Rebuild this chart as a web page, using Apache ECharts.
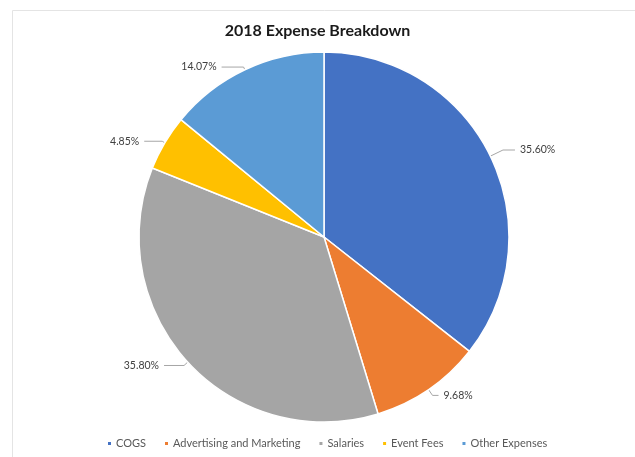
<!DOCTYPE html>
<html>
<head>
<meta charset="utf-8">
<style>
  html, body { margin: 0; padding: 0; background: #fff; }
  #chart { width: 635px; height: 457px; }
</style>
<script src="https://cdn.jsdelivr.net/npm/echarts@6/dist/echarts.min.js"></script>
</head>
<body>
<div id="chart"></div>
<script>
// 2018 expense shares, in percent
const categories = ['COGS', 'Advertising and Marketing', 'Salaries', 'Event Fees', 'Other Expenses'];
const shares = [35.60, 9.68, 35.80, 4.85, 14.07];
const colors = ['#4472C4', '#ED7D31', '#A5A5A5', '#FFC000', '#5B9BD5'];
// leader line segment lengths for each slice label: [first, second]
const leaderLengths = [[14, 12], [7, 6], [5, 20], [3, 18], [3, 22]];

const chart = echarts.init(document.getElementById('chart'), null, { renderer: 'canvas' });

chart.setOption({
  animation: false,
  backgroundColor: '#ffffff',
  color: colors,
  graphic: [{
    type: 'rect',
    shape: { x: 12.5, y: 10.5, width: 700, height: 500 },
    style: { fill: 'none', stroke: '#e4e4e4', lineWidth: 1 },
    silent: true
  }],
  title: {
    text: '2018 Expense Breakdown',
    left: 'center',
    top: 18,
    textStyle: { fontFamily: 'Lato', fontWeight: 'bold', fontSize: 16, color: '#1a1a1a' }
  },
  legend: {
    bottom: 3,
    left: 101,
    itemWidth: 5,
    itemHeight: 5,
    itemGap: 17,
    icon: 'rect',
    textStyle: { fontFamily: 'Lato', fontSize: 11, color: '#595959', padding: [0, 0, 0, -1] },
    data: categories
  },
  series: [{
    type: 'pie',
    center: [324, 237],
    radius: 185,
    startAngle: 90,
    clockwise: true,
    data: categories.map((name, i) => ({
      name,
      value: shares[i],
      labelLine: { length: leaderLengths[i][0], length2: leaderLengths[i][1] }
    })),
    itemStyle: { borderColor: '#ffffff', borderWidth: 1.5 },
    label: {
      show: true,
      position: 'outside',
      formatter: (p) => p.value.toFixed(2) + '%',
      fontFamily: 'Lato',
      fontSize: 10.5,
      color: '#404040'
    },
    labelLine: {
      show: true,
      lineStyle: { color: '#a6a6a6', width: 1 }
    }
  }]
});
</script>
</body>
</html>
